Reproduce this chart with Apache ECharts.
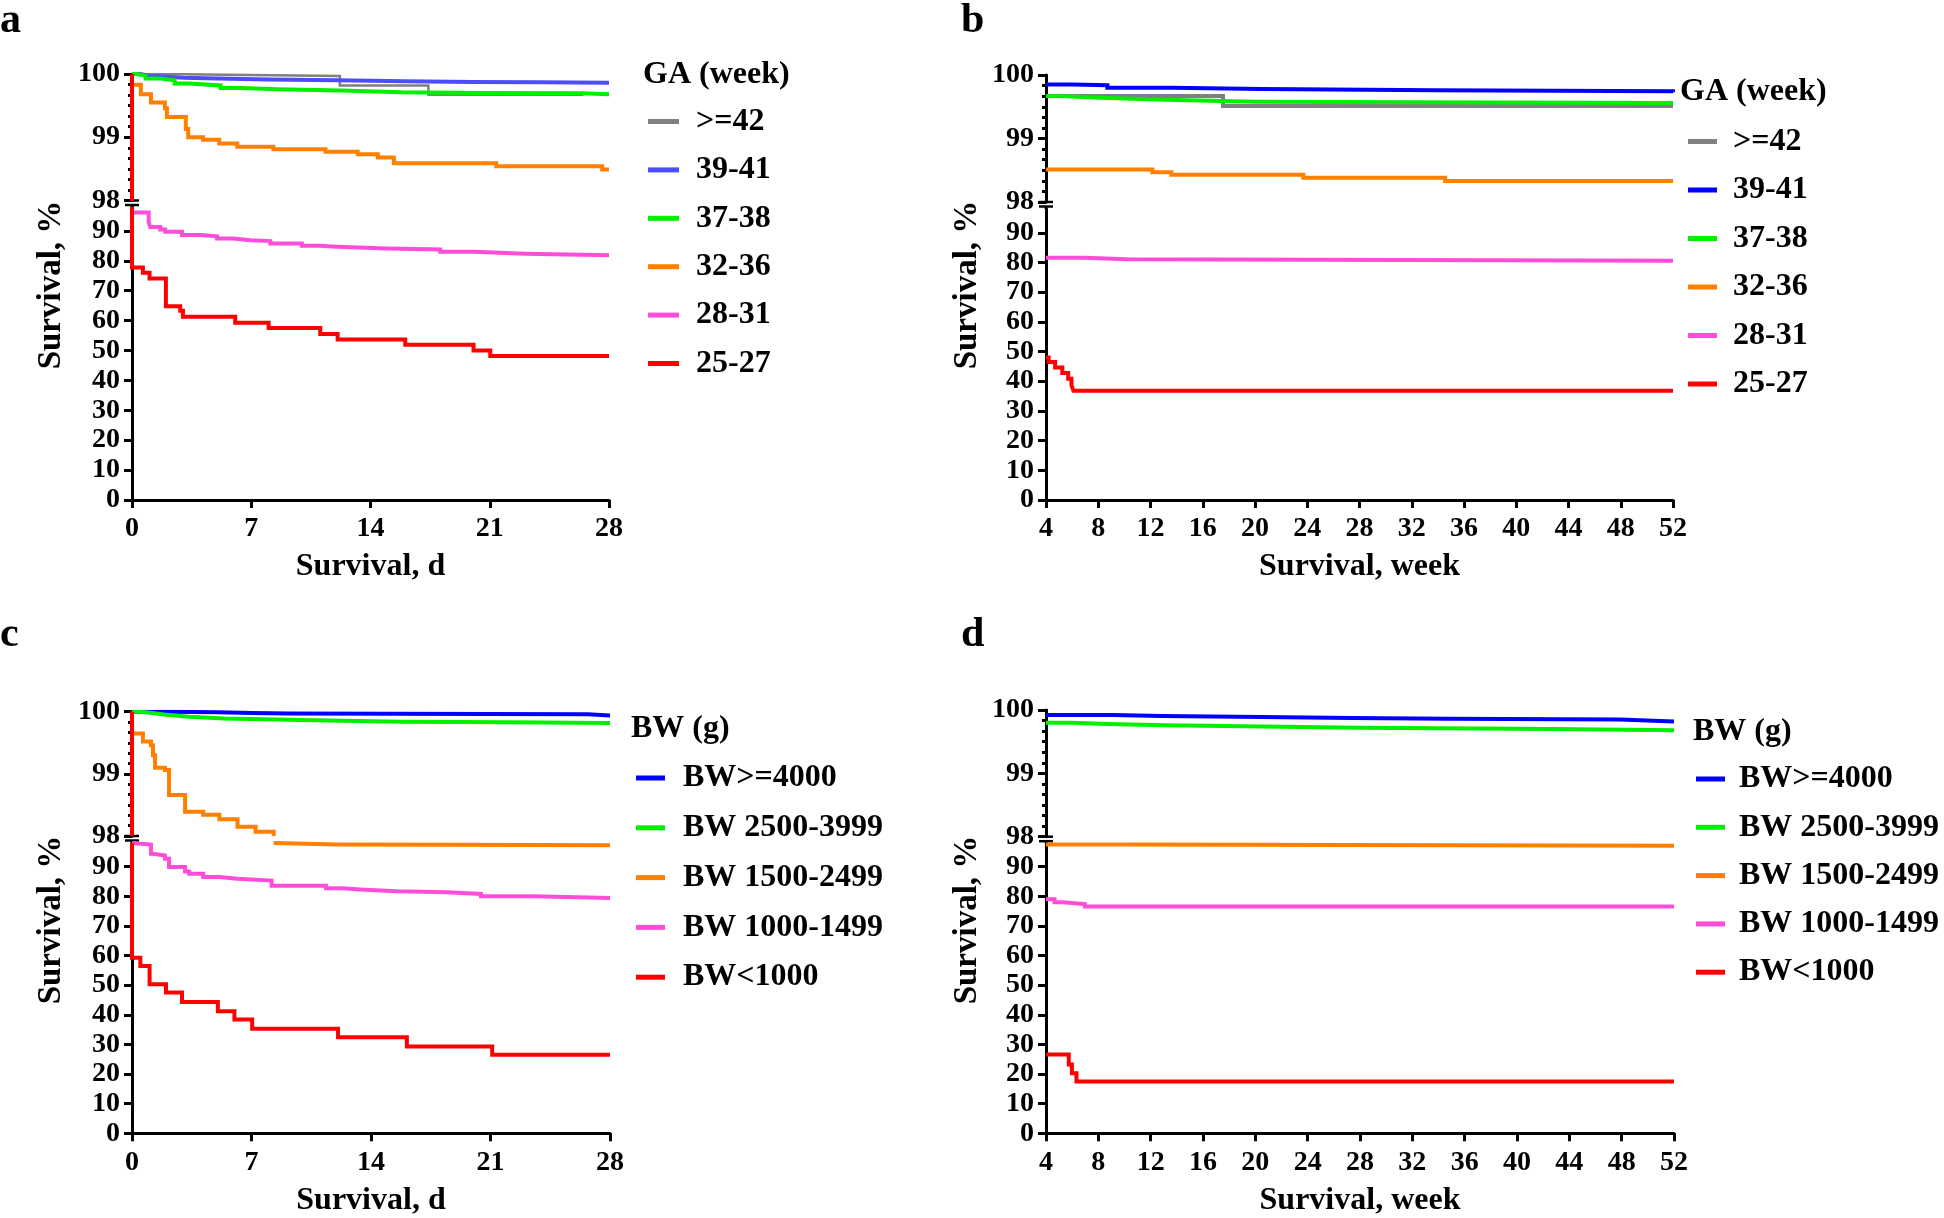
<!DOCTYPE html>
<html><head><meta charset="utf-8">
<script src="https://cdn.jsdelivr.net/npm/echarts@6/dist/echarts.min.js"></script>
<style>html,body{margin:0;padding:0;background:#fff}#c{width:1944px;height:1218px}</style>
</head><body><div id="c"></div>
<script>
// ---------- tick labels ----------
const dayTicks = [0, 7, 14, 21, 28];
const weekTicks = [4, 8, 12, 16, 20, 24, 28, 32, 36, 40, 44, 48, 52];
const upperTicks = [98, 99, 100];
const lowerTicks = [0, 10, 20, 30, 40, 50, 60, 70, 80, 90];
const BREAK = 98; // value where the y axis is broken

// ---------- categories ----------
const gaNames = ['>=42', '39-41', '37-38', '32-36', '28-31', '25-27'];
const bwNames = ['BW>=4000', 'BW 2500-3999', 'BW 1500-2499', 'BW 1000-1499', 'BW<1000'];

// ---------- panel a: GA, survival in days ----------
const a_ge42 = [[0,100],[1.5,99.97],[12.2,99.82],[17.4,99.67],[26.5,99.67]];
const a_39_41 = [[0,100],[0.5,99.97],[1,99.955],[2,99.94],[3,99.93],[5,99.915],[8,99.9],[12,99.885],[16,99.875],[20,99.87],[24,99.86],[28,99.85]];
const a_37_38 = [[0,100],[0.3,99.97],[0.8,99.93],[1.7,99.9],[2.5,99.85],[3.35,99.82],[5.2,99.78],[6.4,99.76],[8.5,99.74],[12.3,99.71],[15.8,99.7],[20.5,99.695],[26.4,99.68],[28,99.67]];
const a_32_36 = [[0,100],[0,99.83],[0.52,99.68],[1.11,99.55],[1.93,99.46],[2.05,99.32],[3.16,99.13],[3.3,99.0],[4.17,98.96],[5.12,98.9],[6.18,98.85],[8.3,98.81],[11.36,98.77],[13.25,98.73],[14.43,98.68],[15.37,98.59],[21.38,98.54],[27.6,98.49],[28,98.49]];
const a_28_31 = [[0,100],[0,96.2],[0.98,93.0],[1.07,91.3],[1.66,90.5],[1.95,89.7],[2.93,88.6],[4.0,88.2],[4.99,87.5],[5.96,86.9],[6.94,86.6],[8.12,85.8],[9.97,85.0],[11.05,84.7],[12.03,84.1],[14.96,83.8],[18.09,83.0],[20.05,82.4],[23.08,81.9],[28,81.9]];
const a_25_27 = [[0,100],[0,77.8],[0.64,76.0],[1.03,74.1],[1.99,64.8],[2.83,63.3],[2.99,61.3],[6.06,59.3],[8.02,57.5],[11.05,55.5],[12.07,53.7],[16.04,51.9],[20.05,50.0],[21.03,48.2],[28,48.2]];

// ---------- panel b: GA, survival in weeks ----------
const b_ge42 = [[4,99.67],[17.55,99.51],[52,99.51]];
const b_39_41 = [[4,99.85],[6,99.84],[8.7,99.8],[13.6,99.78],[20.5,99.76],[33.8,99.745],[52,99.73]];
const b_37_38 = [[4,99.67],[5,99.64],[8.2,99.61],[13.1,99.58],[20,99.57],[31.8,99.56],[52,99.55]];
const b_32_36 = [[4,98.51],[12.15,98.47],[13.6,98.43],[23.7,98.38],[34.56,98.33],[52,98.33]];
const b_28_31 = [[4,81.6],[6.97,81.1],[10.2,80.6],[52,80.6]];
const b_25_27 = [[4,48],[4.2,46.5],[4.7,44.6],[5.25,42.8],[5.7,40.8],[5.95,38.7],[6.1,36.8],[52,36.8]];

// ---------- panel c: BW, survival in days ----------
const c_4000 = [[0,100],[2,99.99],[5,99.98],[7,99.97],[9.24,99.96],[26.7,99.94],[28,99.94]];
const c_2500 = [[0,100],[0.5,99.98],[1.2,99.95],[2,99.92],[3.35,99.89],[5.4,99.87],[9.24,99.855],[12.3,99.84],[15.8,99.83],[22,99.82],[28,99.81]];
const c_1500 = [[0,100],[0,99.65],[0.64,99.52],[1.11,99.46],[1.23,99.3],[1.35,99.1],[1.93,99.06],[2.17,98.66],[3.11,98.39],[4.17,98.34],[5.12,98.27],[6.18,98.15],[7.24,98.07],[8.3,97.5],[12,97.4],[18,97.3],[24,97.2],[28,97.1]];
const c_1000 = [[0,100],[0,97.5],[1.11,94.4],[1.23,93.8],[1.93,92.7],[2.17,89.9],[3.11,88.4],[3.35,87.6],[4.17,86.5],[5.12,85.9],[6.18,85.3],[8.18,83.6],[11.36,82.7],[12.3,82.3],[13.36,81.7],[15.49,81.4],[18.44,80.8],[20.44,80.0],[23.5,79.4],[28,79.4]];
const c_lt1000 = [[0,100],[0,59.3],[0.49,56.5],[1.03,50.3],[1.99,47.5],[2.93,44.3],[5.03,41.2],[6.0,38.4],[7.04,35.3],[12.07,32.4],[16.1,29.3],[21.1,26.5],[28,26.5]];

// ---------- panel d: BW, survival in weeks ----------
const d_4000 = [[4,99.92],[9.18,99.905],[12.88,99.89],[20.5,99.875],[27.4,99.86],[34.8,99.85],[47.87,99.82],[52,99.82]];
const d_2500 = [[4,99.8],[5.98,99.78],[8.7,99.76],[13.1,99.74],[20.5,99.72],[27.9,99.7],[42.7,99.68],[52,99.68]];
const d_1500 = [[4,97.5],[10.2,97.1],[52,97.1]];
const d_1000 = [[4,79.0],[4.65,78.0],[5.25,77.4],[6.97,76.6],[52,76.6]];
const d_lt1000 = [[4,26.6],[5.74,23.2],[5.98,20.3],[6.33,17.5],[52,17.5]];

// ---------- split a step curve at the axis break ----------
function upperPart(d) {
  const out = [];
  for (let i = 0; i < d.length; i++) {
    if (d[i][1] >= BREAK) out.push(d[i]);
    else { if (i > 0) out.push([d[i][0], BREAK]); break; }
  }
  return out;
}
function lowerPart(d) {
  const out = [];
  for (let i = 0; i < d.length; i++) {
    if (d[i][1] <= BREAK) {
      if (i > 0 && d[i - 1][1] > BREAK) out.push([d[i][0], BREAK]);
      out.push(d[i]);
    }
  }
  return out;
}

// ---------- styling ----------
const FONT = 'Liberation Serif';
const colA = ['#808080', '#4d4dff', '#00f000', '#ff8000', '#ff4dda', '#ff0000'];
const colB = ['#808080', '#0000ff', '#00f000', '#ff8000', '#ff4dda', '#ff0000'];
const colBW = ['#0000ff', '#00f000', '#ff8000', '#ff4dda', '#ff0000'];

const panels = [
  { key:'a', left:132, width:477, uTop:74, uBot:200.5, lTop:207, lBot:500, xMin:0, xMax:28, xInt:7, xName:'Survival, d',
    names:gaNames, colors:colA, widths:[2.5,4,4,4,4,4], data:[a_ge42,a_39_41,a_37_38,a_32_36,a_28_31,a_25_27],
    letter:[0,26], ytitle:[51,285], ltitle:'GA (week)', ltPos:[643,75], legend:{left:648, top:105.5, gap:16.4, w:31, pad:12} },
  { key:'b', left:1046, width:627, uTop:75, uBot:202, lTop:209, lBot:500, xMin:4, xMax:52, xInt:4, xName:'Survival, week',
    names:gaNames, colors:colB, widths:[4,4,4,4,4,4], data:[b_ge42,b_39_41,b_37_38,b_32_36,b_28_31,b_25_27],
    letter:[961,26], ytitle:[967,285], ltitle:'GA (week)', ltPos:[1680,92], legend:{left:1688, top:125.5, gap:16.5, w:29, pad:11} },
  { key:'c', left:132, width:478, uTop:711.7, uBot:836, lTop:843, lBot:1133.3, xMin:0, xMax:28, xInt:7, xName:'Survival, d',
    names:bwNames, colors:colBW, widths:[4,4,4,4,4], data:[c_4000,c_2500,c_1500,c_1000,c_lt1000],
    letter:[0,640], ytitle:[51,920], ltitle:'BW (g)', ltPos:[631,729], legend:{left:636, top:762, gap:17.8, w:29, pad:13} },
  { key:'d', left:1046, width:628, uTop:710, uBot:836.7, lTop:843, lBot:1133.3, xMin:4, xMax:52, xInt:4, xName:'Survival, week',
    names:bwNames, colors:colBW, widths:[4,4,4,4,4], data:[d_4000,d_2500,d_1500,d_1000,d_lt1000],
    letter:[961,640], ytitle:[967,920], ltitle:'BW (g)', ltPos:[1693,732], legend:{left:1696, top:763, gap:16.3, w:29, pad:9} }
];

const grid = [], xAxis = [], yAxis = [], series = [], legend = [], graphic = [];
const axisLine = { show:true, onZero:false, lineStyle:{ color:'#000', width:3 } };
const labelFont = { fontFamily:FONT, fontWeight:'bold', fontSize:28, color:'#000' };

panels.forEach((p, pi) => {
  const gu = pi * 2, gl = pi * 2 + 1;
  grid.push({ left:p.left, top:p.uTop, width:p.width, height:p.uBot - p.uTop, outerBoundsMode:'none', containLabel:false });
  grid.push({ left:p.left, top:p.lTop, width:p.width, height:p.lBot - p.lTop, outerBoundsMode:'none', containLabel:false });
  const ticks = p.xInt === 7 ? dayTicks : weekTicks;
  xAxis.push({ type:'value', gridIndex:gu, min:p.xMin, max:p.xMax, interval:p.xInt, show:false });
  xAxis.push({ type:'value', gridIndex:gl, min:p.xMin, max:p.xMax, interval:p.xInt,
    axisLine, splitLine:{show:false},
    axisTick:{ show:true, length:8, lineStyle:{ color:'#000', width:3 }, customValues:ticks },
    axisLabel:Object.assign({ margin:15, customValues:ticks }, labelFont),
    name:p.xName, nameLocation:'middle', nameGap:51,
    nameTextStyle:{ fontFamily:FONT, fontWeight:'bold', fontSize:32, color:'#000' } });
  yAxis.push({ type:'value', gridIndex:gu, min:upperTicks[0], max:upperTicks[2], interval:1,
    axisLine, splitLine:{show:false},
    axisTick:{ show:true, length:8, lineStyle:{ color:'#000', width:3 } },
    minorTick:{ show:true, splitNumber:6, length:4, lineStyle:{ color:'#000', width:3 } },
    minorSplitLine:{show:false},
    axisLabel:Object.assign({ margin:12 }, labelFont) });
  yAxis.push({ type:'value', gridIndex:gl, min:0, max:BREAK, interval:10,
    axisLine, splitLine:{show:false},
    axisTick:{ show:true, length:8, lineStyle:{ color:'#000', width:3 }, customValues:lowerTicks },
    axisLabel:Object.assign({ margin:12, customValues:lowerTicks }, labelFont) });

  p.names.forEach((n, k) => {
    [[gu, upperPart(p.data[k])], [gl, lowerPart(p.data[k])]].forEach(([g, dd]) => {
      series.push({ type:'line', name:n, xAxisIndex:g, yAxisIndex:g, data:dd, step:'end',
        showSymbol:false, symbol:'none', clip:true, silent:true, animation:false,
        lineStyle:{ color:p.colors[k], width:p.widths[k], cap:'butt', join:'miter' },
        itemStyle:{ color:p.colors[k] }, emphasis:{ disabled:true } });
    });
  });

  legend.push({ orient:'vertical', left:p.legend.left, top:p.legend.top, padding:0,
    itemGap:p.legend.gap, itemWidth:p.legend.w, itemHeight:5, icon:'rect', selectedMode:false,
    textStyle:{ fontFamily:FONT, fontWeight:'bold', fontSize:32, color:'#000', lineHeight:32, padding:[0,0,0,p.legend.pad] },
    data:p.names.map((n, k) => ({ name:n, icon:'rect', itemStyle:{ color:p.colors[k], borderWidth:0 } })) });

  graphic.push({ type:'text', left:p.letter[0], top:p.letter[1] - 26, silent:true,
    style:{ text:p.key, fontFamily:FONT, fontWeight:'bold', fontSize:42, fill:'#000' } });
  graphic.push({ type:'text', x:p.ytitle[0], y:p.ytitle[1], rotation:Math.PI / 2, silent:true,
    style:{ text:'Survival, %', fontFamily:FONT, fontWeight:'bold', fontSize:33, fill:'#000', align:'center', verticalAlign:'middle' } });
  graphic.push({ type:'text', x:p.ltPos[0], y:p.ltPos[1], silent:true,
    style:{ text:p.ltitle, fontFamily:FONT, fontWeight:'bold', fontSize:32, fill:'#000', align:'left', verticalAlign:'middle' } });
  const ax = p.left, yb1 = p.uBot, yb2 = p.uBot + 4.5;
  graphic.push({ type:'line', silent:true, shape:{ x1:ax, y1:yb2, x2:ax, y2:p.lTop }, style:{ stroke:'#000', lineWidth:3 } });
  graphic.push({ type:'line', silent:true, shape:{ x1:ax - 7, y1:yb1, x2:ax + 7, y2:yb1 }, style:{ stroke:'#000', lineWidth:2.5 } });
  graphic.push({ type:'line', silent:true, shape:{ x1:ax - 7, y1:yb2, x2:ax + 7, y2:yb2 }, style:{ stroke:'#000', lineWidth:2.5 } });
});

const chart = echarts.init(document.getElementById('c'), null, { renderer:'canvas', width:1944, height:1218 });
chart.setOption({ backgroundColor:'#ffffff', animation:false, grid, xAxis, yAxis, series, legend, graphic });
</script></body></html>
